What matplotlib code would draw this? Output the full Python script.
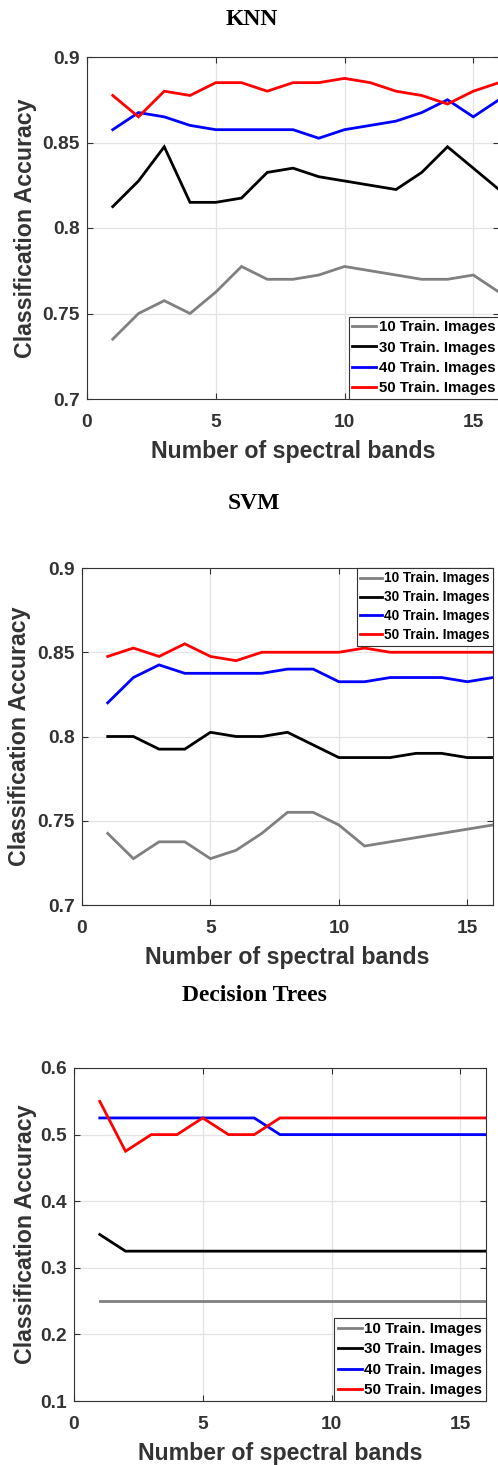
import matplotlib
matplotlib.use("Agg")
import matplotlib.pyplot as plt
from matplotlib.ticker import FuncFormatter

bands = list(range(1, 17))
series_labels = ["10 Train. Images", "30 Train. Images", "40 Train. Images", "50 Train. Images"]
series_colors = ["#808080", "#000000", "#0000ff", "#ff0000"]

knn_10 = [0.735, 0.75, 0.7575, 0.75, 0.7625, 0.7775, 0.77, 0.77, 0.7725, 0.7775, 0.775, 0.7725, 0.77, 0.77, 0.7725, 0.7625]
knn_30 = [0.8125, 0.8275, 0.8475, 0.815, 0.815, 0.8175, 0.8325, 0.835, 0.83, 0.8275, 0.825, 0.8225, 0.8325, 0.8475, 0.835, 0.8225]
knn_40 = [0.8575, 0.8675, 0.865, 0.86, 0.8575, 0.8575, 0.8575, 0.8575, 0.8525, 0.8575, 0.86, 0.8625, 0.8675, 0.875, 0.865, 0.875]
knn_50 = [0.8775, 0.865, 0.88, 0.8775, 0.885, 0.885, 0.88, 0.885, 0.885, 0.8875, 0.885, 0.88, 0.8775, 0.8725, 0.88, 0.885]

svm_10 = [0.7425, 0.7275, 0.7375, 0.7375, 0.7275, 0.7325, 0.7425, 0.755, 0.755, 0.7475, 0.735, 0.7375, 0.74, 0.7425, 0.745, 0.7475]
svm_30 = [0.8, 0.8, 0.7925, 0.7925, 0.8025, 0.8, 0.8, 0.8025, 0.795, 0.7875, 0.7875, 0.7875, 0.79, 0.79, 0.7875, 0.7875]
svm_40 = [0.82, 0.835, 0.8425, 0.8375, 0.8375, 0.8375, 0.8375, 0.84, 0.84, 0.8325, 0.8325, 0.835, 0.835, 0.835, 0.8325, 0.835]
svm_50 = [0.8475, 0.8525, 0.8475, 0.855, 0.8475, 0.845, 0.85, 0.85, 0.85, 0.85, 0.8525, 0.85, 0.85, 0.85, 0.85, 0.85]

dt_10 = [0.25] * 16
dt_30 = [0.35] + [0.325] * 15
dt_40 = [0.525] * 7 + [0.5] * 9
dt_50 = [0.55, 0.475, 0.5, 0.5, 0.525, 0.5, 0.5] + [0.525] * 9

titles = ["KNN", "SVM", "Decision Trees"]
x_label = "Number of spectral bands"
y_label = "Classification Accuracy"
x_ticks = [0, 5, 10, 15]
knn_yticks = [0.7, 0.75, 0.8, 0.85, 0.9]
svm_yticks = [0.7, 0.75, 0.8, 0.85, 0.9]
dt_yticks = [0.1, 0.2, 0.3, 0.4, 0.5, 0.6]

W, H = 498, 1465
fig = plt.figure(figsize=(W / 100, H / 100), dpi=100)

SANS = "Liberation Sans"
SERIF = "Liberation Serif"
AXC = "#333333"

# pixel boxes: left, top, right, bottom
boxes = [(87, 57, 499, 399), (82, 568, 493, 905), (74, 1068, 486, 1401)]
title_pos = [(252, 25), (254, 509), (254, 1001)]      # baseline positions
xlabel_base = [458, 964, 1460]
ylabel_base = [32, 26, 32]
legend_loc = ["lower right", "upper right", "lower right"]
legend_fs = [10.8, 9.8, 10.9]
legend_ls = [0.42, 0.36, 0.42]
data = [
    (knn_10, knn_30, knn_40, knn_50, knn_yticks),
    (svm_10, svm_30, svm_40, svm_50, svm_yticks),
    (dt_10, dt_30, dt_40, dt_50, dt_yticks),
]

for i, (box, d) in enumerate(zip(boxes, data)):
    l, t, r, b = box
    ax = fig.add_axes([l / W, 1 - b / H, (r - l) / W, (b - t) / H])
    yt = d[4]
    for vals, lab, col in zip(d[:4], series_labels, series_colors):
        ax.plot(bands, vals, color=col, lw=2.0, label=lab, solid_joinstyle="miter")
    ax.set_xlim(0, 16)
    ax.set_ylim(yt[0], yt[-1])
    ax.set_xticks(x_ticks)
    ax.set_yticks(yt)
    ax.yaxis.set_major_formatter(FuncFormatter(lambda v, p: "%g" % round(v, 3)))
    ax.grid(True, color="#e3e3e3", lw=0.9)
    ax.set_axisbelow(True)
    ax.tick_params(direction="in", top=True, right=True, length=4, width=0.8,
                   color=AXC, labelcolor=AXC, labelsize=13.8)
    ax.tick_params(axis="x", pad=11)
    ax.tick_params(axis="y", pad=5)
    for lbl in ax.get_xticklabels() + ax.get_yticklabels():
        lbl.set_fontfamily(SANS)
        lbl.set_fontweight("bold")
    for s in ax.spines.values():
        s.set_color(AXC)
        s.set_linewidth(0.8)
    ax.set_xlabel(x_label, fontsize=16.7, fontweight="bold", family=SANS, color=AXC)
    ax.xaxis.set_label_coords(0.5, (b - xlabel_base[i]) / (b - t))
    ax.xaxis.label.set_va("baseline")
    ax.set_ylabel(y_label, fontsize=16.7, fontweight="bold", family=SANS, color=AXC)
    ax.yaxis.set_label_coords((ylabel_base[i] - l) / (r - l), 0.5)
    ax.yaxis.label.set_va("baseline")
    leg = ax.legend(loc=legend_loc[i], prop={"family": SANS, "weight": "bold", "size": legend_fs[i]},
                    frameon=True, fancybox=False, framealpha=1, edgecolor=AXC,
                    borderaxespad=0, borderpad=0.25, handlelength=1.6, handletextpad=0.15,
                    labelspacing=legend_ls[i])
    leg.get_frame().set_linewidth(0.8)
    tx, ty = title_pos[i]
    fig.text(tx / W, 1 - ty / H, titles[i], ha="center", va="baseline",
             fontsize=17, fontweight="bold", family=SERIF, color="black")

fig.savefig("out.png", dpi=100)
